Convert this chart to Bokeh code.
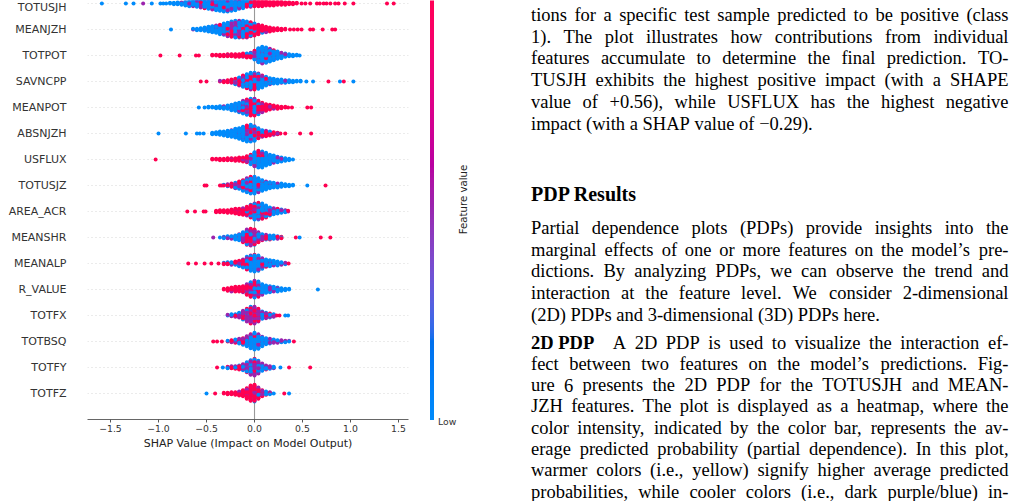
import math

import numpy as np
from bokeh.core.properties import value
from bokeh.embed import file_html
from bokeh.layouts import row
from bokeh.models import (ColumnDataSource, CustomJSTickFormatter, FixedTicker,
                          LinearColorMapper, Range1d, Span)
from bokeh.plotting import figure
from bokeh.resources import INLINE
from bokeh.transform import transform

# ---------------------------------------------------------------------------
# SHAP summary data: one list per feature, each entry is
# (shap value, n samples with low / mid / high feature value)
# ---------------------------------------------------------------------------
FEATURES = ["TOTUSJH", "MEANJZH", "TOTPOT", "SAVNCPP", "MEANPOT", "ABSNJZH",
            "USFLUX", "TOTUSJZ", "AREA_ACR", "MEANSHR", "MEANALP", "R_VALUE",
            "TOTFX", "TOTBSQ", "TOTFY", "TOTFZ"]

totusjh = [
    (-1.59, 1, 0, 0), (-1.34, 1, 0, 0), (-1.26, 1, 0, 0), (-1.16, 0, 1, 0),
    (-1.07, 1, 0, 0), (-0.98, 1, 0, 0), (-0.95, 1, 0, 0), (-0.92, 1, 0, 0),
    (-0.88, 2, 0, 0), (-0.84, 3, 0, 0), (-0.80, 3, 1, 0), (-0.76, 4, 1, 0),
    (-0.72, 6, 1, 0), (-0.68, 7, 2, 0), (-0.64, 8, 2, 0), (-0.60, 10, 2, 0),
    (-0.56, 11, 2, 1), (-0.52, 13, 2, 1), (-0.48, 14, 3, 1), (-0.44, 16, 3, 1),
    (-0.40, 17, 4, 1), (-0.36, 19, 4, 1), (-0.32, 20, 4, 2), (-0.28, 19, 4, 2),
    (-0.24, 17, 4, 2), (-0.20, 15, 4, 2), (-0.16, 12, 4, 2), (-0.12, 9, 4, 2),
    (-0.08, 6, 3, 3), (-0.04, 4, 3, 4), (0.00, 1, 2, 7), (0.04, 0, 1, 8),
    (0.08, 0, 1, 8), (0.12, 0, 0, 8), (0.16, 0, 0, 7), (0.20, 0, 0, 7),
    (0.24, 0, 0, 6), (0.28, 0, 0, 6), (0.32, 0, 0, 5), (0.36, 0, 0, 4),
    (0.40, 0, 0, 3), (0.44, 0, 0, 2), (0.49, 0, 0, 1), (0.53, 0, 0, 1),
    (0.58, 0, 0, 1), (0.65, 0, 0, 1), (0.68, 0, 0, 1), (0.72, 0, 0, 1),
    (0.75, 0, 0, 1), (0.79, 0, 0, 1), (0.84, 0, 0, 1), (0.875, 0, 0, 1),
    (0.94, 0, 0, 1), (1.03, 0, 0, 1), (1.38, 0, 0, 1), (1.45, 0, 0, 1),
]
meanjzh = [
    (-0.87, 1, 0, 0),
    (-0.64, 1, 1, 0), (-0.60, 3, 0, 0), (-0.56, 4, 0, 0), (-0.52, 5, 1, 0),
    (-0.48, 7, 1, 0), (-0.44, 9, 1, 0), (-0.40, 10, 2, 0), (-0.36, 12, 2, 1),
    (-0.32, 12, 4, 2), (-0.28, 13, 5, 3), (-0.24, 15, 6, 3), (-0.20, 15, 7, 4),
    (-0.16, 13, 7, 6), (-0.12, 10, 7, 9), (-0.08, 8, 6, 11), (-0.04, 5, 5, 12),
    (0.00, 3, 3, 13), (0.04, 2, 2, 11), (0.08, 1, 1, 10), (0.12, 0, 1, 8),
    (0.16, 0, 1, 6), (0.20, 0, 0, 5), (0.24, 0, 0, 4), (0.28, 0, 0, 3),
    (0.32, 0, 0, 2), (0.37, 0, 0, 1), (0.41, 0, 0, 1), (0.45, 0, 0, 1),
    (0.49, 0, 0, 1), (0.58, 0, 0, 1), (0.61, 0, 0, 1), (0.71, 0, 0, 1),
    (0.81, 0, 0, 1), (0.84, 0, 0, 1),
]
totpot = [
    (-0.98, 0, 0, 1), (-0.78, 0, 0, 1), (-0.61, 0, 0, 1), (-0.58, 0, 0, 1),
    (-0.44, 0, 0, 2), (-0.40, 0, 0, 2), (-0.36, 0, 0, 3), (-0.32, 0, 0, 3),
    (-0.28, 0, 1, 3), (-0.24, 0, 0, 4), (-0.20, 0, 1, 4), (-0.16, 0, 0, 5),
    (-0.12, 0, 1, 5), (-0.08, 1, 1, 5), (-0.04, 2, 2, 4), (0.00, 7, 3, 4),
    (0.04, 15, 4, 3), (0.08, 19, 4, 3), (0.12, 18, 4, 2), (0.16, 16, 3, 1),
    (0.20, 13, 2, 1), (0.24, 10, 2, 0), (0.28, 8, 1, 0), (0.32, 5, 1, 0),
    (0.36, 4, 0, 0), (0.40, 3, 0, 0), (0.44, 2, 0, 0), (0.47, 1, 0, 0),
]
savncpp = [
    (-0.56, 0, 0, 1), (-0.50, 0, 0, 1),
    (-0.36, 0, 1, 1), (-0.32, 0, 1, 2), (-0.28, 0, 1, 3), (-0.24, 1, 2, 3),
    (-0.20, 3, 2, 4), (-0.16, 5, 3, 5), (-0.12, 7, 4, 7), (-0.08, 9, 5, 8),
    (-0.04, 15, 5, 6), (0.00, 16, 5, 5), (0.04, 16, 4, 4), (0.08, 15, 3, 1),
    (0.12, 12, 1, 1), (0.16, 8, 1, 1), (0.20, 7, 1, 0), (0.24, 6, 1, 0),
    (0.28, 5, 1, 0), (0.32, 4, 1, 0), (0.36, 4, 0, 0), (0.40, 3, 0, 0),
    (0.44, 2, 0, 0), (0.48, 2, 0, 0), (0.54, 1, 0, 0), (0.61, 1, 0, 0),
    (0.77, 0, 0, 1), (0.89, 1, 0, 0), (0.93, 0, 0, 1), (1.03, 1, 0, 0),
]
meanpot = [
    (-0.58, 1, 0, 0), (-0.52, 1, 0, 0),
    (-0.48, 2, 0, 0), (-0.44, 2, 0, 0), (-0.40, 3, 0, 0), (-0.36, 4, 0, 0),
    (-0.32, 4, 1, 0), (-0.28, 5, 1, 0), (-0.24, 8, 1, 0), (-0.20, 11, 1, 0),
    (-0.16, 10, 3, 2), (-0.12, 12, 5, 3), (-0.08, 13, 6, 5), (-0.04, 8, 8, 10),
    (0.00, 6, 8, 12), (0.04, 4, 6, 11), (0.08, 1, 3, 11), (0.12, 1, 2, 8),
    (0.16, 0, 1, 7), (0.20, 0, 1, 5), (0.24, 0, 0, 5), (0.28, 0, 0, 3),
    (0.32, 0, 0, 2), (0.35, 0, 0, 1), (0.39, 0, 0, 1), (0.55, 0, 0, 1),
    (0.59, 0, 0, 1),
]
absnjzh = [
    (-1.00, 1, 0, 0), (-0.715, 1, 0, 0), (-0.60, 1, 0, 0), (-0.57, 1, 0, 0),
    (-0.53, 1, 0, 0),
    (-0.44, 3, 0, 0), (-0.40, 4, 0, 0), (-0.36, 6, 0, 0), (-0.32, 6, 1, 0),
    (-0.28, 8, 1, 0), (-0.24, 10, 1, 0), (-0.20, 13, 1, 0), (-0.16, 15, 2, 0),
    (-0.12, 18, 2, 1), (-0.08, 17, 5, 3), (-0.04, 17, 5, 4), (0.00, 14, 5, 4),
    (0.04, 5, 6, 5), (0.08, 3, 4, 4), (0.12, 1, 3, 5), (0.16, 1, 2, 4),
    (0.20, 0, 2, 3), (0.24, 0, 1, 2), (0.27, 0, 0, 1), (0.32, 0, 0, 1),
    (0.475, 0, 0, 1), (0.59, 0, 0, 1),
]
usflux = [
    (-1.03, 0, 0, 1),
    (-0.44, 0, 0, 2), (-0.40, 0, 0, 2), (-0.36, 0, 0, 3), (-0.32, 0, 0, 3),
    (-0.28, 0, 0, 4), (-0.24, 0, 1, 3), (-0.20, 0, 0, 5), (-0.16, 0, 1, 5),
    (-0.12, 0, 1, 6), (-0.08, 1, 1, 8), (-0.04, 6, 2, 7), (0.00, 14, 3, 5),
    (0.04, 18, 3, 5), (0.08, 18, 3, 4), (0.12, 16, 2, 2), (0.16, 13, 1, 1),
    (0.20, 10, 1, 1), (0.24, 8, 1, 0), (0.28, 6, 1, 0), (0.32, 5, 0, 0),
    (0.36, 3, 0, 0), (0.40, 1, 0, 0),
]
totusjz = [
    (-0.52, 0, 0, 1), (-0.50, 0, 0, 1), (-0.36, 0, 0, 1), (-0.34, 0, 0, 1),
    (-0.32, 1, 0, 1), (-0.28, 2, 1, 1), (-0.24, 2, 1, 3), (-0.20, 5, 2, 2),
    (-0.16, 7, 3, 2), (-0.12, 9, 4, 4), (-0.08, 12, 6, 4), (-0.04, 16, 5, 5),
    (0.00, 16, 5, 5), (0.04, 15, 4, 3), (0.08, 14, 2, 1), (0.12, 11, 1, 1),
    (0.16, 9, 1, 0), (0.20, 7, 1, 0), (0.24, 6, 1, 0), (0.28, 5, 1, 0),
    (0.32, 4, 0, 0), (0.36, 3, 0, 0), (0.40, 2, 0, 0), (0.55, 1, 0, 0),
    (0.74, 0, 0, 1),
]
area_acr = [
    (-0.70, 0, 0, 1), (-0.62, 0, 0, 1), (-0.53, 0, 0, 1), (-0.51, 0, 0, 1),
    (-0.40, 0, 0, 3), (-0.36, 0, 0, 4), (-0.32, 0, 0, 4), (-0.28, 0, 1, 4),
    (-0.24, 0, 0, 6), (-0.20, 0, 1, 7), (-0.16, 0, 1, 8), (-0.12, 1, 1, 9),
    (-0.08, 4, 3, 7), (-0.04, 6, 4, 10), (0.00, 13, 4, 8), (0.04, 14, 4, 8),
    (0.08, 13, 4, 7), (0.12, 11, 5, 3), (0.16, 8, 4, 1), (0.20, 6, 3, 1),
    (0.24, 5, 2, 1), (0.28, 3, 2, 1), (0.32, 2, 2, 0), (0.35, 0, 1, 1),
]
meanshr = [
    (-0.43, 0, 1, 0), (-0.36, 1, 0, 0),
    (-0.32, 2, 1, 0), (-0.28, 3, 1, 0), (-0.24, 3, 2, 0), (-0.20, 5, 2, 0),
    (-0.16, 6, 3, 1), (-0.12, 4, 6, 6), (-0.08, 4, 10, 10), (-0.04, 3, 11, 12),
    (0.00, 4, 10, 10), (0.04, 4, 6, 6), (0.08, 6, 2, 2), (0.12, 5, 1, 2),
    (0.16, 5, 1, 1), (0.20, 4, 1, 1), (0.24, 3, 1, 1), (0.28, 1, 0, 2),
    (0.43, 0, 0, 1), (0.47, 1, 0, 0), (0.69, 0, 0, 1), (0.79, 0, 0, 1),
]
meanalp = [
    (-0.69, 0, 0, 1), (-0.61, 0, 0, 1), (-0.52, 0, 0, 1), (-0.45, 0, 0, 1),
    (-0.375, 0, 0, 1),
    (-0.32, 1, 0, 2), (-0.28, 2, 0, 2), (-0.24, 2, 1, 2), (-0.20, 3, 0, 3),
    (-0.16, 4, 1, 4), (-0.12, 5, 2, 6), (-0.08, 12, 3, 5), (-0.04, 16, 4, 4),
    (0.00, 18, 4, 4), (0.04, 17, 4, 3), (0.08, 13, 3, 1), (0.12, 9, 2, 1),
    (0.16, 7, 2, 1), (0.20, 6, 2, 0), (0.24, 5, 2, 0), (0.28, 4, 1, 0),
    (0.32, 2, 1, 0), (0.355, 0, 0, 1),
]
r_value = [
    (-0.32, 0, 0, 2), (-0.28, 0, 0, 5), (-0.24, 0, 1, 6), (-0.20, 0, 1, 7),
    (-0.16, 0, 1, 7), (-0.12, 1, 1, 8), (-0.08, 3, 5, 9), (-0.04, 5, 7, 11),
    (0.00, 11, 8, 7), (0.04, 11, 7, 6), (0.08, 13, 3, 1), (0.12, 10, 2, 0),
    (0.16, 8, 2, 0), (0.20, 7, 1, 0), (0.24, 6, 1, 0), (0.28, 4, 1, 0),
    (0.32, 3, 0, 0), (0.36, 2, 0, 0), (0.66, 1, 0, 0),
]
totfx = [
    (-0.28, 1, 1, 0), (-0.24, 2, 2, 0), (-0.20, 2, 2, 1), (-0.16, 4, 3, 1),
    (-0.12, 3, 7, 4), (-0.08, 4, 10, 6), (-0.04, 5, 13, 8), (0.00, 5, 13, 8),
    (0.04, 4, 10, 6), (0.08, 6, 4, 2), (0.12, 4, 3, 2), (0.16, 3, 2, 2),
    (0.20, 2, 2, 1), (0.23, 0, 0, 1), (0.26, 0, 0, 1), (0.32, 1, 0, 0),
    (0.35, 1, 0, 0),
]
totbsq = [
    (-0.43, 0, 0, 1), (-0.39, 0, 0, 1), (-0.34, 0, 0, 1),
    (-0.28, 1, 0, 1), (-0.24, 1, 1, 2), (-0.20, 2, 1, 3), (-0.16, 3, 2, 3),
    (-0.12, 3, 2, 6), (-0.08, 8, 3, 5), (-0.04, 14, 4, 4), (0.00, 19, 4, 3),
    (0.04, 16, 4, 3), (0.08, 9, 5, 1), (0.12, 6, 4, 0), (0.16, 5, 3, 0),
    (0.20, 3, 3, 0), (0.24, 3, 2, 0), (0.28, 2, 2, 0), (0.32, 1, 2, 0),
    (0.36, 1, 1, 0), (0.41, 0, 0, 1),
]
totfy = [
    (-0.39, 0, 0, 1), (-0.33, 1, 0, 0),
    (-0.28, 1, 1, 1), (-0.24, 1, 1, 2), (-0.20, 1, 2, 2), (-0.16, 1, 3, 3),
    (-0.12, 3, 4, 3), (-0.08, 5, 7, 4), (-0.04, 8, 10, 5), (0.00, 9, 12, 5),
    (0.04, 7, 9, 4), (0.08, 6, 4, 2), (0.12, 3, 2, 2), (0.16, 2, 2, 1),
    (0.20, 2, 1, 0), (0.27, 1, 0, 0), (0.36, 0, 0, 1), (0.58, 0, 0, 1),
]
totfz = [
    (-0.50, 1, 0, 0), (-0.41, 0, 0, 1),
    (-0.32, 0, 0, 2), (-0.28, 0, 0, 3), (-0.24, 0, 1, 3), (-0.20, 0, 0, 5),
    (-0.16, 0, 1, 6), (-0.12, 0, 1, 9), (-0.08, 1, 3, 13), (-0.04, 2, 3, 19),
    (0.00, 3, 4, 19), (0.04, 2, 3, 13), (0.08, 3, 2, 5), (0.12, 2, 1, 3),
    (0.16, 2, 1, 1), (0.20, 1, 0, 0), (0.31, 0, 0, 1), (0.36, 1, 0, 0),
]

ROWS = [totusjh, meanjzh, totpot, savncpp, meanpot, absnjzh, usflux, totusjz,
        area_acr, meanshr, meanalp, r_value, totfx, totbsq, totfy, totfz]

# normalised feature value used for each of the three sample groups
LEVELS = (0.0, 0.5, 1.0)

X_TICKS = [-1.5, -1.0, -0.5, 0.0, 0.5, 1.0, 1.5]
X_LABEL = "SHAP Value (Impact on Model Output)"

# paper text set beside the chart
PARA_1 = [
    "tions for a specific test sample predicted to be positive (class",
    "1). The plot illustrates how contributions from individual",
    "features accumulate to determine the final prediction. TO-",
    "TUSJH exhibits the highest positive impact (with a SHAPE",
    "value of +0.56), while USFLUX has the highest negative",
    "impact (with a SHAP value of \u22120.29).",
]
HEADING = "PDP Results"
PARA_2 = [
    "Partial dependence plots (PDPs) provide insights into the",
    "marginal effects of one or more features on the model\u2019s pre-",
    "dictions. By analyzing PDPs, we can observe the trend and",
    "interaction at the feature level. We consider 2-dimensional",
    "(2D) PDPs and 3-dimensional (3D) PDPs here.",
]
RUN_IN = "2D PDP"
PARA_3 = [
    "A 2D PDP is used to visualize the interaction ef-",
    "fect between two features on the model\u2019s predictions. Fig-",
    "ure 6 presents the 2D PDP for the TOTUSJH and MEAN-",
    "JZH features. The plot is displayed as a heatmap, where the",
    "color intensity, indicated by the color bar, represents the av-",
    "erage predicted probability (partial dependence). In this plot,",
    "warmer colors (i.e., yellow) signify higher average predicted",
    "probabilities, while cooler colors (i.e., dark purple/blue) in-",
]


# ---------------------------------------------------------------------------
# red-blue colour map (interpolated in LCh space, blue -> purple -> red)
# ---------------------------------------------------------------------------
def lch_hex(l, c, h):
    a, b = c * math.cos(h), c * math.sin(h)
    fy = (l + 16.0) / 116.0
    fx, fz = fy + a / 500.0, fy - b / 200.0

    def finv(t):
        return t ** 3 if t ** 3 > 0.008856 else (t - 16.0 / 116.0) / 7.787

    x, y, z = 0.95047 * finv(fx), finv(fy), 1.08883 * finv(fz)
    lin = (3.2406 * x - 1.5372 * y - 0.4986 * z,
           -0.9689 * x + 1.8758 * y + 0.0415 * z,
           0.0557 * x - 0.2040 * y + 1.0570 * z)
    out = []
    for v in lin:
        v = 12.92 * v if v <= 0.0031308 else 1.055 * max(v, 0) ** (1 / 2.4) - 0.055
        out.append(int(round(min(max(v, 0.0), 1.0) * 255)))
    return "#%02x%02x%02x" % tuple(out)


NSTEP = 256
_l = list(np.linspace(54.0, 40.0, NSTEP // 2)) + list(np.linspace(40.0, 54.0, NSTEP - NSTEP // 2))
_c = np.linspace(70.0, 90.0, NSTEP)
_h = np.linspace(4.6588, 0.35470565 + 2 * np.pi, NSTEP)
RED_BLUE = [lch_hex(l, c, h) for l, c, h in zip(_l, _c, _h)]
mapper = LinearColorMapper(palette=RED_BLUE, low=0.0, high=1.0)


# ---------------------------------------------------------------------------
# beeswarm layout: samples sharing a SHAP value are stacked alternately
# above and below the feature's row, then scaled to the row height
# ---------------------------------------------------------------------------
ROW_HEIGHT = 0.4
GOLDEN = 0.6180339887


def mixed_order(counts, phase):
    # spread the three groups evenly through a stack, shifting the pattern
    # from one stack to the next so neighbouring stacks do not line up
    keyed = []
    for cls, n in enumerate(counts):
        off = (phase + 0.37 * cls) % 1.0
        keyed += [((i + off) / n, cls) for i in range(n)]
    keyed.sort()
    return [cls for _, cls in keyed]


pts = {"x": [], "y": [], "fv": []}
n_feat = len(FEATURES)
stack_no = 0
for i, bins in enumerate(ROWS):
    row_pos = n_feat - 1 - i
    xs, layers, fvs = [], [], []
    for shap_val, n_low, n_mid, n_high in bins:
        stack_no += 1
        order = mixed_order((n_low, n_mid, n_high), (stack_no * GOLDEN) % 1.0)
        for k, cls in enumerate(order):
            xs.append(shap_val)
            layers.append(math.ceil(k / 2) * (1 if k % 2 else -1))
            fvs.append(LEVELS[cls])
    scale = 0.9 * ROW_HEIGHT / (max(layers) + 1)
    pts["x"] += xs
    pts["y"] += [row_pos + lay * scale for lay in layers]
    pts["fv"] += fvs

# interleave the drawing order so overlapping dots mix like a scatter of samples
draw = sorted(range(len(pts["x"])), key=lambda j: (j * GOLDEN) % 1.0)
pts = {k: [v[j] for j in draw] for k, v in pts.items()}

W, H = 1013, 501
LEFT_W = 420
FRAME_L, FRAME_R, FRAME_B = 87, 12, 82

p = figure(frame_width=LEFT_W - FRAME_L - FRAME_R, frame_height=H - FRAME_B,
           output_backend="svg", toolbar_location=None,
           x_range=Range1d(-1.7396, 1.604), y_range=Range1d(-1.0, n_feat - 1 + 0.115),
           min_border_left=FRAME_L, min_border_right=FRAME_R, min_border_top=0,
           min_border_bottom=FRAME_B)
p.grid.visible = False
p.outline_line_color = None
p.background_fill_color = "white"
p.border_fill_color = "white"

for r in range(n_feat):
    p.add_layout(Span(location=r, dimension="width", line_color="#cccccc",
                      line_width=0.8, line_dash="1 3", level="underlay"))
p.add_layout(Span(location=0, dimension="height", line_color="#999999",
                  line_width=1.1, level="underlay"))

p.scatter("x", "y", source=ColumnDataSource(pts), size=4.0,
          fill_color=transform("fv", mapper), line_color=None)

# x axis
xa = p.xaxis[0]
xa.ticker = FixedTicker(ticks=X_TICKS)
xa.formatter = CustomJSTickFormatter(
    code="return (tick < 0 ? '\\u2212' : '') + Math.abs(tick).toFixed(1);")
xa.minor_tick_line_color = None
xa.axis_line_color = "#666666"
xa.axis_line_width = 1
xa.major_tick_line_color = "#555555"
xa.major_tick_out = 3
xa.major_tick_in = 0
xa.major_label_standoff = 2
xa.major_label_text_font = "DejaVu Sans"
xa.major_label_text_font_size = "9.3px"
xa.major_label_text_color = "#333333"
xa.axis_label = X_LABEL
xa.axis_label_standoff = 2
xa.axis_label_text_font = "DejaVu Sans"
xa.axis_label_text_font_size = "11px"
xa.axis_label_text_font_style = "normal"
xa.axis_label_text_color = "#222222"

# y axis: feature names, most important on top
ya = p.yaxis[0]
ya.ticker = FixedTicker(ticks=list(range(n_feat)))
ya.major_label_overrides = {n_feat - 1 - i: name for i, name in enumerate(FEATURES)}
ya.axis_line_color = None
ya.major_tick_line_color = None
ya.minor_tick_line_color = None
ya.major_tick_out = 0
ya.major_label_standoff = 21
ya.major_label_text_font = "DejaVu Sans"
ya.major_label_text_font_size = "11px"
ya.major_label_text_color = "#333333"

# ---------------------------------------------------------------------------
# right panel: colour bar and the justified paper text (pixel coordinates)
# ---------------------------------------------------------------------------
q = figure(frame_width=W - LEFT_W, frame_height=H, output_backend="svg",
           toolbar_location=None, x_range=Range1d(LEFT_W, W), y_range=Range1d(0, H),
           x_axis_type=None, y_axis_type=None, min_border=0)
q.grid.visible = False
q.outline_line_color = None
q.background_fill_color = "white"
q.border_fill_color = "white"

bar_bottom = 419.5
grad = np.linspace(0.0, 1.0, 256).reshape(-1, 1)
q.image(image=[grad], x=429.5, y=H - bar_bottom, dw=4, dh=bar_bottom + 10,
        color_mapper=mapper)
q.text(x=[437.5], y=[H - 420.5], text=["Low"], text_baseline="middle",
       text_align="left", text_font=value("DejaVu Sans"), text_font_size="9.3px",
       text_color="#333333")
q.text(x=[463], y=[H - 199], text=["Feature value"], angle=math.pi / 2,
       text_baseline="middle", text_align="center", text_font=value("DejaVu Sans"),
       text_font_size="10.2px", text_color="#222222")

# Times glyph advance widths (1/1000 em) used to justify the lines
TIMES = {" ": 250, "(": 333, ")": 333, "+": 564, ",": 250, "-": 333, ".": 250,
         "/": 278, ":": 278, "\u2019": 333, "\u2212": 564}
TIMES.update({d: 500 for d in "0123456789"})
TIMES.update(dict(zip("ABCDEFGHIJKLMNOPQRSTUVWXYZ",
                      [722, 667, 667, 722, 611, 556, 722, 722, 333, 389, 722, 611, 889,
                       722, 722, 556, 722, 667, 556, 611, 722, 722, 944, 722, 722, 611])))
TIMES.update(dict(zip("abcdefghijklmnopqrstuvwxyz",
                      [444, 500, 444, 500, 444, 333, 500, 500, 278, 278, 500, 278, 778,
                       500, 500, 500, 500, 333, 389, 278, 500, 500, 722, 500, 500, 444])))
TIMES_BOLD = {" ": 250}
TIMES_BOLD.update({d: 500 for d in "0123456789"})
TIMES_BOLD.update(dict(zip("ABCDEFGHIJKLMNOPQRSTUVWXYZ",
                           [722, 667, 722, 722, 667, 611, 778, 778, 389, 500, 778, 667, 944,
                            722, 778, 611, 778, 722, 556, 667, 722, 722, 1000, 722, 722, 667])))
TIMES_BOLD.update(dict(zip("abcdefghijklmnopqrstuvwxyz",
                           [500, 556, 444, 556, 444, 333, 500, 556, 278, 333, 556, 278, 833,
                            556, 500, 556, 556, 444, 389, 333, 556, 500, 722, 500, 500, 444])))

BODY = 18.5
HEAD = 20.0
LEAD = 21.7
LEAD_3 = 21.3
X0, X1 = 530.5, 1008.0

left_words = {"x": [], "y": [], "t": []}
right_words = {"x": [], "y": [], "t": []}
bold_words = {"x": [], "y": [], "t": [], "s": []}


def text_w(s, size, table):
    return sum(table.get(ch, 500) for ch in s) * size / 1000.0


def set_line(line, x0, base, justify):
    words = line.split(" ")
    widths = [text_w(w, BODY, TIMES) for w in words]
    if justify and len(words) > 1:
        gap = (X1 - x0 - sum(widths)) / (len(words) - 1)
    else:
        gap = TIMES[" "] * BODY / 1000.0
    x = x0
    for j, (w, wd) in enumerate(zip(words, widths)):
        if justify and len(words) > 1 and j == len(words) - 1:
            right_words["x"].append(X1)
            right_words["y"].append(H - base)
            right_words["t"].append(w)
        else:
            left_words["x"].append(x)
            left_words["y"].append(H - base)
            left_words["t"].append(w)
        x += wd + gap


def set_paragraph(lines, first_base, lead=LEAD, last_justified=False, first_x=X0):
    for k, line in enumerate(lines):
        justify = last_justified or k < len(lines) - 1
        set_line(line, first_x if k == 0 else X0, first_base + k * lead, justify)


set_paragraph(PARA_1, 14.5)

bold_words["x"].append(X0)
bold_words["y"].append(H - 193.0)
bold_words["t"].append(HEADING)
bold_words["s"].append("%.1fpx" % HEAD)

set_paragraph(PARA_2, 227.5)

run_in_base = 342.0
bold_words["x"].append(X0)
bold_words["y"].append(H - run_in_base)
bold_words["t"].append(RUN_IN)
bold_words["s"].append("%.1fpx" % BODY)
indent = X0 + text_w(RUN_IN, BODY, TIMES_BOLD) + BODY
set_paragraph(PARA_3, run_in_base, lead=LEAD_3, last_justified=True, first_x=indent)

serif = value("Liberation Serif")
q.text("x", "y", text="t", source=ColumnDataSource(left_words), text_font=serif,
       text_font_size="%.1fpx" % BODY, text_baseline="alphabetic", text_align="left",
       text_color="#000000")
q.text("x", "y", text="t", source=ColumnDataSource(right_words), text_font=serif,
       text_font_size="%.1fpx" % BODY, text_baseline="alphabetic", text_align="right",
       text_color="#000000")
q.text("x", "y", text="t", source=ColumnDataSource(bold_words), text_font=serif,
       text_font_size="s", text_font_style="bold", text_baseline="alphabetic",
       text_align="left", text_color="#000000")

layout = row(p, q)
with open("out.html", "w") as fh:
    fh.write(file_html(layout, INLINE))
